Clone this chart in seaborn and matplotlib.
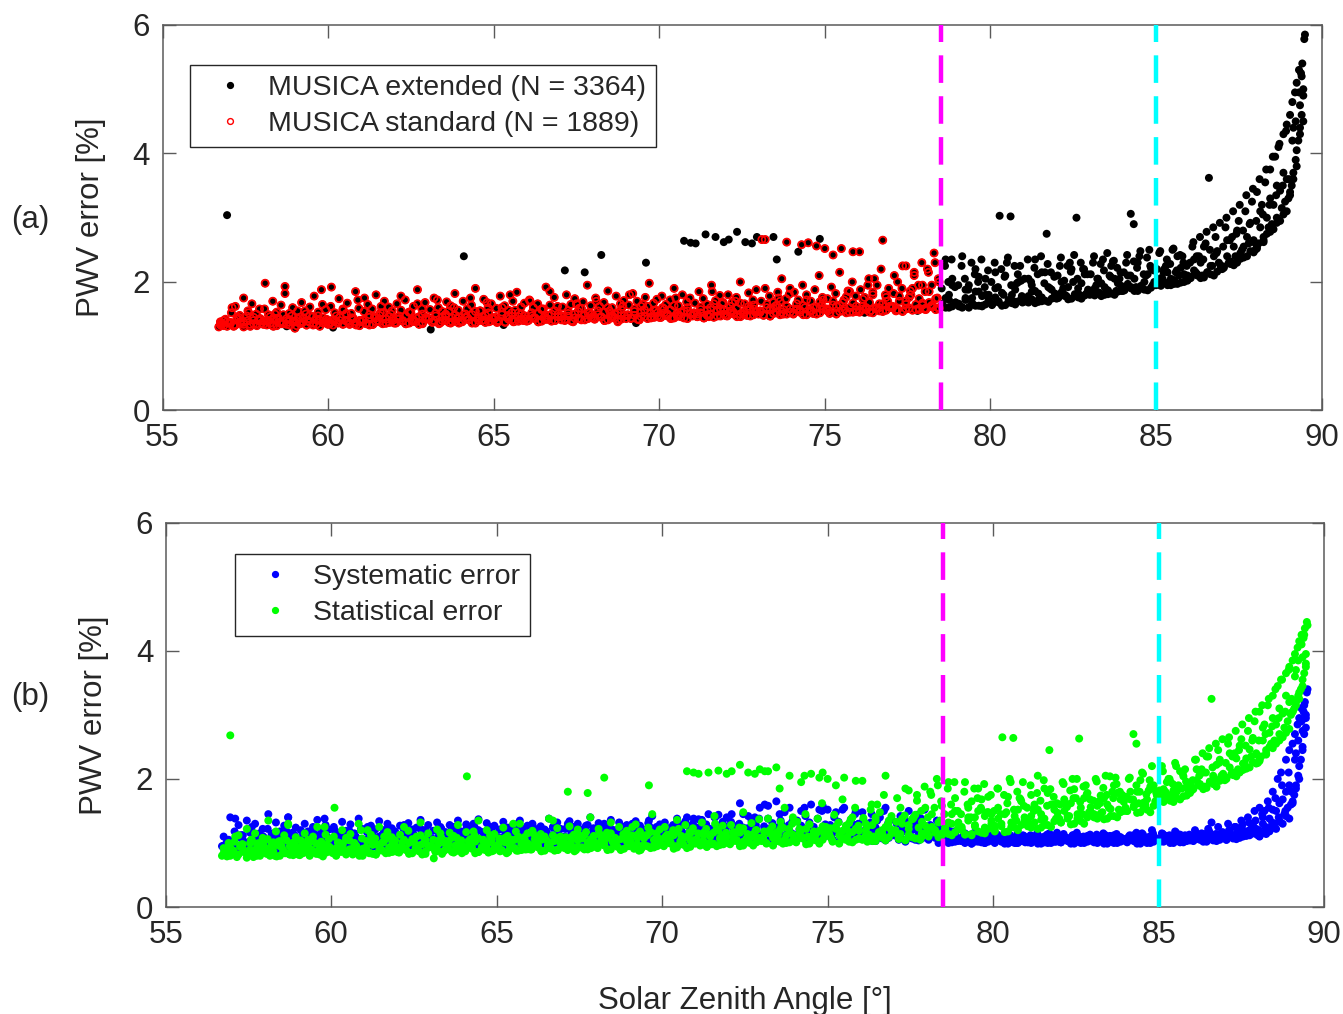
import matplotlib
matplotlib.use("Agg")
import matplotlib.pyplot as plt
import pandas as pd
import seaborn as sns
from matplotlib.lines import Line2D

# ---------------- data ----------------
SZA_STD_LIMIT = 78.5      # magenta dashed line
SZA_CYAN = 85.0           # cyan dashed line
N_EXTENDED = 3364
N_STANDARD = 1889

# --- batch 1: individual observations (incl. visible outliers) ---
sza = [
    56.7, 56.75, 56.8, 56.9, 57.0, 57.1, 57.2, 57.3, 57.45, 57.6, 57.75, 57.9,
    58.0, 58.1, 58.2, 58.3, 58.4, 58.5, 58.6, 58.7, 58.8, 58.9,
    59.0, 59.1, 59.2, 59.3, 59.4, 59.55, 59.7, 59.8, 59.9,
    60.0, 60.1, 60.2, 60.3, 60.45, 60.6, 60.7, 60.8, 60.9,
    61.0, 61.1, 61.25, 61.4, 61.5, 61.6, 61.75, 61.9,
    62.0, 62.1, 62.2, 62.35, 62.5, 62.6, 62.7, 62.85, 62.95,
    63.2, 63.3, 63.4, 63.55, 63.7, 63.8, 63.9,
    64.0, 64.2, 64.3, 64.45, 64.6, 64.7, 64.8, 64.9,
    65.0, 65.1, 65.25, 65.4, 65.5, 65.6, 65.75, 65.9,
    66.0, 66.1, 66.2, 66.35, 66.5, 66.6, 66.7, 66.85, 66.95,
    67.05, 67.25, 67.4, 67.5, 67.6, 67.9,
    68.0, 68.1, 68.35, 68.5, 68.6, 68.75, 68.9,
    69.0, 69.1, 69.25, 69.4, 69.5, 69.75, 69.9,
    70.0, 70.1, 70.25, 70.4, 70.5, 70.6, 70.85,
    71.0, 71.15, 71.25, 71.45, 71.5, 71.6, 71.75, 71.85, 71.9,
    72.0, 72.15, 72.2, 72.3, 72.45, 72.55, 72.7, 72.85, 72.9,
    73.0, 73.1, 73.2, 73.35, 73.5, 73.6, 73.7, 73.85, 73.95,
    74.05, 74.15, 74.3, 74.4, 74.5, 74.6, 74.75, 74.9, 74.95,
    75.0, 75.1, 75.25, 75.35, 75.5, 75.6, 75.75, 75.85, 75.95,
    76.05, 76.15, 76.3, 76.4, 76.5, 76.65, 76.75, 76.9,
    77.0, 77.1, 77.2, 77.35, 77.45, 77.6, 77.7, 77.85, 77.95,
    78.0, 78.1, 78.2, 78.3, 78.4, 78.45,
    78.55, 78.65, 78.75, 78.85, 78.95,
    79.05, 79.15, 79.25, 79.35, 79.45, 79.55, 79.65, 79.75, 79.85, 79.95,
    80.05, 80.15, 80.28, 80.4, 80.5, 80.61, 80.7, 80.8, 80.9, 80.97,
    81.05, 81.15, 81.25, 81.35, 81.45, 81.55, 81.7, 81.8, 81.9,
    82.0, 82.1, 82.2, 82.3, 82.4, 82.5, 82.6, 82.7, 82.8, 82.9,
    83.0, 83.1, 83.2, 83.3, 83.4, 83.5, 83.6, 83.7, 83.8, 83.9,
    84.0, 84.1, 84.24, 84.33, 84.4, 84.5, 84.6, 84.7, 84.8, 84.9,
    85.0, 85.1, 85.2, 85.3, 85.4, 85.5, 85.6, 85.7, 85.8, 85.9,
    86.0, 86.1, 86.2, 86.3, 86.4, 86.5, 86.6, 86.7, 86.8, 86.9,
    87.0, 87.1, 87.2, 87.3, 87.4, 87.5, 87.6, 87.7, 87.8, 87.9, 87.95,
    88.0, 88.05, 88.1, 88.2, 88.25, 88.3, 88.4, 88.45, 88.5, 88.6, 88.65, 88.7, 88.8, 88.85, 88.9, 88.95,
    89.0, 89.05, 89.1, 89.12, 89.15, 89.2, 89.22, 89.25, 89.3, 89.32, 89.35, 89.38, 89.4, 89.42, 89.45, 89.48, 89.5,
]
err_total = [
    1.30, 1.38, 1.34, 1.42, 1.36, 1.60, 1.33, 1.45, 1.37, 1.52, 1.35, 1.41,
    1.36, 1.98, 1.40, 1.33, 1.50, 1.44, 1.35, 1.93, 1.38, 1.47,
    1.28, 1.42, 1.36, 1.55, 1.39, 1.33, 1.47, 1.88, 1.37,
    1.34, 1.92, 1.40, 1.36, 1.58, 1.38, 1.44, 1.35, 1.72,
    1.38, 1.75, 1.33, 1.46, 1.40, 1.62, 1.36, 1.50,
    1.36, 1.42, 1.78, 1.35, 1.52, 1.39, 1.66, 1.37, 1.45,
    1.40, 1.72, 1.37, 1.48, 1.36, 1.60, 1.43,
    1.38, 1.45, 1.75, 1.36, 1.55, 1.41, 1.68, 1.39,
    1.42, 1.37, 1.60, 1.45, 1.80, 1.38, 1.52, 1.40,
    1.39, 1.70, 1.44, 1.38, 1.58, 1.42, 1.85, 1.40, 1.50,
    1.41, 1.47, 1.38, 1.66, 1.43, 1.52,
    1.44, 1.70, 1.40, 1.55, 1.47, 1.38, 1.62,
    1.43, 1.80, 1.48, 1.41, 1.65, 1.46, 1.56,
    1.45, 1.60, 1.50, 1.44, 1.75, 1.48, 1.55,
    1.47, 1.50, 1.52, 1.49, 1.46, 1.85, 1.56, 1.58, 1.66,
    1.48, 1.52, 1.55, 1.70, 1.50, 1.49, 1.62, 1.58, 1.53,
    1.50, 2.66, 2.66, 1.58, 1.62, 1.75, 1.53, 2.62, 1.90,
    1.52, 1.57, 2.58, 1.60, 2.61, 1.55, 2.56, 1.63, 1.72,
    2.52, 1.55, 2.42, 1.62, 2.52, 1.58, 1.85, 2.47, 1.54,
    2.47, 1.58, 1.95, 1.56, 2.05, 1.60, 2.65, 1.70,
    1.60, 2.10, 1.57, 2.25, 1.65, 1.80, 2.15, 1.59, 1.95,
    1.58, 2.20, 1.62, 2.45, 1.75, 1.60,
    1.62, 2.35, 1.80, 2.05, 1.68,
    1.62, 2.40, 1.75, 1.95, 1.66, 2.20, 1.85, 1.63, 2.05, 1.72,
    1.66, 2.15, 3.03, 1.80, 2.30, 3.02, 1.70, 1.98, 2.25, 1.68,
    1.70, 2.05, 1.85, 2.35, 1.72, 2.15, 2.75, 1.90, 1.75,
    1.74, 2.25, 1.90, 1.78, 2.30, 2.00, 3.00, 1.80, 2.20, 1.82,
    1.80, 2.30, 1.95, 1.83, 2.35, 1.88, 2.10, 2.32, 1.86, 2.05,
    1.86, 2.30, 3.06, 2.90, 1.92, 2.40, 1.90, 2.10, 2.50, 1.95,
    1.95, 2.45, 2.05, 2.25, 2.00, 2.50, 2.15, 2.10, 2.40, 2.08,
    2.05, 2.55, 2.15, 2.40, 2.10, 2.60, 3.62, 2.25, 2.70, 2.30,
    2.20, 2.85, 2.30, 2.70, 2.40, 2.95, 2.50, 3.10, 2.60, 3.25, 2.65,
    2.50, 3.40, 2.60, 3.20, 2.70, 3.55, 2.85, 3.75, 2.90, 3.95, 3.00, 4.10, 3.15, 4.30, 3.25, 4.45,
    3.30, 4.60, 3.50, 4.80, 3.70, 4.95, 3.90, 5.10, 4.20, 5.30, 4.40, 5.25, 4.60, 5.40, 4.90, 5.78, 5.85,
]
err_sys = [
    0.95, 1.10, 0.90, 1.05, 0.98, 1.38, 0.93, 1.12, 1.00, 1.25, 0.92, 1.06,
    1.00, 1.45, 1.05, 0.95, 1.15, 1.08, 0.96, 1.40, 1.02, 1.12,
    0.92, 1.06, 1.00, 1.18, 1.03, 0.95, 1.10, 1.38, 0.99,
    0.96, 1.20, 1.03, 0.98, 1.15, 1.00, 1.08, 0.97, 1.22,
    1.00, 1.25, 0.95, 1.08, 1.02, 1.20, 0.98, 1.12,
    0.98, 1.05, 1.28, 0.96, 1.13, 1.01, 1.22, 0.99, 1.07,
    1.03, 1.25, 0.99, 1.10, 0.98, 1.18, 1.05,
    1.00, 1.07, 1.30, 0.98, 1.15, 1.03, 1.25, 1.00,
    1.05, 0.99, 1.20, 1.07, 1.28, 1.00, 1.12, 1.02,
    1.00, 1.25, 1.05, 0.98, 1.18, 1.03, 1.25, 1.01, 1.10,
    1.02, 1.08, 0.99, 1.20, 1.04, 1.12,
    1.05, 1.25, 1.00, 1.15, 1.08, 0.99, 1.20,
    1.04, 1.30, 1.08, 1.02, 1.20, 1.06, 1.14,
    1.05, 1.20, 1.10, 1.03, 1.30, 1.08, 1.14,
    1.06, 1.09, 1.12, 1.07, 1.05, 1.40, 1.15, 1.18, 1.24,
    1.06, 1.10, 1.12, 1.28, 1.08, 1.07, 1.20, 1.16, 1.11,
    1.07, 1.60, 1.58, 1.15, 1.19, 1.30, 1.10, 1.55, 1.35,
    1.08, 1.13, 1.55, 1.14, 1.60, 1.10, 1.52, 1.18, 1.25,
    1.52, 1.10, 1.48, 1.15, 1.55, 1.12, 1.30, 1.50, 1.08,
    1.48, 1.12, 1.32, 1.10, 1.35, 1.13, 1.55, 1.20,
    1.12, 1.30, 1.10, 1.35, 1.15, 1.22, 1.32, 1.10, 1.25,
    1.10, 1.28, 1.12, 1.35, 1.18, 1.08,
    1.05, 1.20, 1.10, 1.15, 1.04,
    1.03, 1.15, 1.08, 1.12, 1.02, 1.14, 1.10, 1.00, 1.12, 1.05,
    1.02, 1.10, 1.10, 1.05, 1.13, 1.08, 1.00, 1.08, 1.12, 1.01,
    1.02, 1.08, 1.05, 1.12, 1.01, 1.10, 1.15, 1.06, 1.02,
    1.02, 1.10, 1.06, 1.03, 1.12, 1.07, 1.10, 1.03, 1.09, 1.04,
    1.03, 1.10, 1.06, 1.02, 1.12, 1.04, 1.08, 1.11, 1.03, 1.07,
    1.03, 1.10, 1.12, 1.10, 1.05, 1.15, 1.04, 1.08, 1.20, 1.05,
    1.04, 1.15, 1.05, 1.10, 1.06, 1.18, 1.08, 1.06, 1.12, 1.07,
    1.06, 1.20, 1.08, 1.15, 1.07, 1.22, 1.32, 1.10, 1.25, 1.12,
    1.08, 1.30, 1.12, 1.25, 1.14, 1.35, 1.18, 1.40, 1.22, 1.50, 1.20,
    1.12, 1.55, 1.15, 1.50, 1.20, 1.65, 1.25, 1.80, 1.30, 2.00, 1.35, 2.10, 1.45, 2.30, 1.55, 2.45,
    1.60, 2.55, 1.75, 2.70, 1.90, 2.85, 2.05, 2.95, 2.30, 3.10, 2.50, 3.05, 2.70, 3.20, 2.95, 3.35, 3.40,
]
err_stat = [
    0.80, 0.92, 0.85, 1.00, 0.88, 1.10, 0.82, 0.98, 0.86, 1.05, 0.80, 0.95,
    0.86, 1.35, 0.90, 0.80, 1.02, 0.95, 0.84, 1.30, 0.88, 0.98,
    0.82, 0.95, 0.88, 1.05, 0.90, 0.83, 0.99, 1.25, 0.87,
    0.86, 1.55, 0.92, 0.86, 1.08, 0.90, 0.96, 0.84, 1.20,
    0.88, 1.20, 0.83, 0.97, 0.90, 1.10, 0.85, 1.00,
    0.86, 0.93, 1.25, 0.85, 1.02, 0.90, 1.12, 0.87, 0.96,
    0.90, 1.15, 0.87, 0.98, 0.85, 1.08, 0.93,
    0.88, 0.95, 1.18, 0.86, 1.05, 0.92, 1.12, 0.88,
    0.92, 0.87, 1.08, 0.95, 1.30, 0.88, 1.00, 0.90,
    0.90, 1.15, 0.95, 0.88, 1.05, 0.92, 1.35, 0.90, 0.99,
    0.92, 0.97, 0.89, 1.12, 0.93, 1.00,
    0.94, 1.15, 0.90, 1.02, 0.96, 0.89, 1.08,
    0.95, 1.25, 0.98, 0.93, 1.12, 0.97, 1.05,
    0.97, 1.10, 1.00, 0.95, 1.22, 0.99, 1.04,
    0.99, 1.01, 1.03, 1.00, 0.98, 1.30, 1.06, 1.07, 1.12,
    1.00, 1.03, 1.05, 1.18, 1.02, 1.01, 1.10, 1.08, 1.04,
    1.03, 2.12, 2.12, 1.08, 1.12, 1.25, 1.05, 2.05, 1.40,
    1.05, 1.08, 2.05, 1.10, 2.08, 1.07, 2.02, 1.13, 1.25,
    2.00, 1.08, 1.90, 1.12, 2.02, 1.10, 1.40, 1.97, 1.07,
    1.97, 1.12, 1.52, 1.10, 1.60, 1.14, 2.05, 1.22,
    1.16, 1.70, 1.14, 1.85, 1.22, 1.40, 1.75, 1.15, 1.55,
    1.18, 1.80, 1.22, 2.00, 1.35, 1.15,
    1.25, 1.95, 1.45, 1.70, 1.32,
    1.22, 1.95, 1.40, 1.65, 1.28, 1.85, 1.52, 1.24, 1.72, 1.35,
    1.27, 1.85, 2.65, 1.48, 2.00, 2.64, 1.35, 1.70, 1.95, 1.30,
    1.33, 1.75, 1.55, 2.05, 1.36, 1.85, 2.45, 1.60, 1.38,
    1.38, 1.95, 1.60, 1.42, 2.00, 1.70, 2.63, 1.45, 1.90, 1.48,
    1.45, 2.00, 1.65, 1.48, 2.05, 1.55, 1.80, 2.02, 1.52, 1.75,
    1.55, 2.00, 2.70, 2.55, 1.62, 2.10, 1.60, 1.82, 2.20, 1.65,
    1.70, 2.20, 1.80, 2.00, 1.75, 2.25, 1.90, 1.85, 2.15, 1.82,
    1.82, 2.30, 1.92, 2.15, 1.88, 2.35, 3.25, 2.00, 2.45, 2.05,
    1.98, 2.55, 2.08, 2.40, 2.15, 2.62, 2.25, 2.75, 2.35, 2.90, 2.38,
    2.25, 3.05, 2.35, 2.85, 2.45, 3.15, 2.55, 3.30, 2.60, 3.45, 2.70, 3.55, 2.80, 3.65, 2.90, 3.75,
    3.00, 3.85, 3.10, 3.95, 3.20, 4.05, 3.30, 4.15, 3.40, 4.25, 3.55, 4.20, 3.65, 4.35, 3.80, 4.45, 4.40,
]

# --- batches 2 and 3: observations of the dense core of the bands (same SZA grid) ---
sza_core = [
    56.75, 56.85, 56.95,
    57.05, 57.15, 57.25, 57.35, 57.45, 57.55, 57.65, 57.75, 57.85, 57.95,
    58.05, 58.15, 58.25, 58.35, 58.45, 58.55, 58.65, 58.75, 58.85, 58.95,
    59.05, 59.15, 59.25, 59.35, 59.45, 59.55, 59.65, 59.75, 59.85, 59.95,
    60.05, 60.15, 60.25, 60.35, 60.45, 60.55, 60.65, 60.75, 60.85, 60.95,
    61.05, 61.15, 61.25, 61.35, 61.45, 61.55, 61.65, 61.75, 61.85, 61.95,
    62.05, 62.15, 62.25, 62.35, 62.45, 62.55, 62.65, 62.75, 62.85, 62.95,
    63.05, 63.15, 63.25, 63.35, 63.45, 63.55, 63.65, 63.75, 63.85, 63.95,
    64.05, 64.15, 64.25, 64.35, 64.45, 64.55, 64.65, 64.75, 64.85, 64.95,
    65.05, 65.15, 65.25, 65.35, 65.45, 65.55, 65.65, 65.75, 65.85, 65.95,
    66.05, 66.15, 66.25, 66.35, 66.45, 66.55, 66.65, 66.75, 66.85, 66.95,
    67.05, 67.15, 67.25, 67.35, 67.45, 67.55, 67.65, 67.75, 67.85, 67.95,
    68.05, 68.15, 68.25, 68.35, 68.45, 68.55, 68.65, 68.75, 68.85, 68.95,
    69.05, 69.15, 69.25, 69.35, 69.45, 69.55, 69.65, 69.75, 69.85, 69.95,
    70.05, 70.15, 70.25, 70.35, 70.45, 70.55, 70.65, 70.75, 70.85, 70.95,
    71.05, 71.15, 71.25, 71.35, 71.45, 71.55, 71.65, 71.75, 71.85, 71.95,
    72.05, 72.15, 72.25, 72.35, 72.45, 72.55, 72.65, 72.75, 72.85, 72.95,
    73.05, 73.15, 73.25, 73.35, 73.45, 73.55, 73.65, 73.75, 73.85, 73.95,
    74.05, 74.15, 74.25, 74.35, 74.45, 74.55, 74.65, 74.75, 74.85, 74.95,
    75.05, 75.15, 75.25, 75.35, 75.45, 75.55, 75.65, 75.75, 75.85, 75.95,
    76.05, 76.15, 76.25, 76.35, 76.45, 76.55, 76.65, 76.75, 76.85, 76.95,
    77.05, 77.15, 77.25, 77.35, 77.45, 77.55, 77.65, 77.75, 77.85, 77.95,
    78.05, 78.15, 78.25, 78.35, 78.45, 78.55, 78.65, 78.75, 78.85, 78.95,
    79.05, 79.15, 79.25, 79.35, 79.45, 79.55, 79.65, 79.75, 79.85, 79.95,
    80.05, 80.15, 80.25, 80.35, 80.45, 80.55, 80.65, 80.75, 80.85, 80.95,
    81.05, 81.15, 81.25, 81.35, 81.45, 81.55, 81.65, 81.75, 81.85, 81.95,
    82.05, 82.15, 82.25, 82.35, 82.45, 82.55, 82.65, 82.75, 82.85, 82.95,
    83.05, 83.15, 83.25, 83.35, 83.45, 83.55, 83.65, 83.75, 83.85, 83.95,
    84.05, 84.15, 84.25, 84.35, 84.45, 84.55, 84.65, 84.75, 84.85, 84.95,
    85.05, 85.15, 85.25, 85.35, 85.45, 85.55, 85.65, 85.75, 85.85, 85.95,
    86.05, 86.15, 86.25, 86.35, 86.45, 86.55, 86.65, 86.75, 86.85, 86.95,
    87.05, 87.15, 87.25, 87.35, 87.45, 87.55, 87.65, 87.75, 87.85, 87.95,
    88.05, 88.15, 88.25, 88.35, 88.45, 88.55, 88.65, 88.75, 88.85, 88.95,
    89.05, 89.15, 89.25, 89.35, 89.45,
]
err_total_2 = [
    1.33, 1.40, 1.31,
    1.35, 1.31, 1.44, 1.38, 1.30, 1.47, 1.34, 1.40, 1.32, 1.43,
    1.39, 1.33, 1.46, 1.31, 1.42, 1.36, 1.49, 1.34, 1.41, 1.37,
    1.32, 1.45, 1.38, 1.33, 1.48, 1.36, 1.41, 1.31, 1.44, 1.39,
    1.37, 1.33, 1.47, 1.40, 1.35, 1.51, 1.34, 1.43, 1.38, 1.32,
    1.41, 1.35, 1.49, 1.34, 1.44, 1.38, 1.52, 1.36, 1.46, 1.40,
    1.36, 1.47, 1.40, 1.35, 1.53, 1.39, 1.44, 1.34, 1.50, 1.42,
    1.43, 1.37, 1.51, 1.35, 1.46, 1.40, 1.55, 1.38, 1.48, 1.36,
    1.38, 1.50, 1.42, 1.36, 1.54, 1.40, 1.46, 1.37, 1.52, 1.44,
    1.45, 1.38, 1.53, 1.37, 1.48, 1.41, 1.56, 1.39, 1.50, 1.43,
    1.40, 1.52, 1.44, 1.38, 1.57, 1.42, 1.48, 1.39, 1.55, 1.46,
    1.47, 1.40, 1.55, 1.39, 1.50, 1.43, 1.59, 1.41, 1.52, 1.45,
    1.42, 1.55, 1.46, 1.40, 1.60, 1.44, 1.50, 1.41, 1.57, 1.48,
    1.49, 1.43, 1.58, 1.42, 1.53, 1.46, 1.62, 1.44, 1.55, 1.47,
    1.45, 1.58, 1.49, 1.43, 1.63, 1.47, 1.53, 1.44, 1.60, 1.51,
    1.52, 1.46, 1.61, 1.44, 1.56, 1.49, 1.66, 1.47, 1.58, 1.50,
    1.48, 1.62, 1.52, 1.46, 1.67, 1.50, 1.56, 1.47, 1.64, 1.54,
    1.55, 1.49, 1.65, 1.47, 1.59, 1.52, 1.70, 1.50, 1.62, 1.53,
    1.51, 1.66, 1.56, 1.49, 1.72, 1.54, 1.60, 1.50, 1.69, 1.58,
    1.58, 1.52, 1.70, 1.51, 1.64, 1.55, 1.77, 1.53, 1.67, 1.57,
    1.55, 1.73, 1.60, 1.53, 1.80, 1.58, 1.66, 1.54, 1.76, 1.62,
    1.62, 1.56, 1.78, 1.55, 1.70, 1.59, 1.90, 1.57, 1.74, 1.64,
    1.59, 1.85, 1.64, 1.57, 2.00, 1.62, 1.75, 1.60, 1.95, 1.68,
    1.66, 1.61, 1.88, 1.60, 1.75, 1.63, 2.08, 1.62, 1.80, 1.70,
    1.64, 1.90, 1.70, 1.63, 2.10, 1.68, 1.80, 1.65, 2.00, 1.74,
    1.72, 1.68, 1.95, 1.67, 1.82, 1.70, 2.15, 1.69, 1.88, 1.76,
    1.76, 2.00, 1.80, 1.73, 2.20, 1.78, 1.90, 1.74, 2.12, 1.84,
    1.83, 1.79, 2.05, 1.78, 1.92, 1.81, 2.25, 1.80, 1.98, 1.86,
    1.88, 2.10, 1.92, 1.86, 2.30, 1.90, 2.00, 1.87, 2.22, 1.96,
    1.98, 1.94, 2.20, 1.95, 2.05, 1.97, 2.40, 1.99, 2.12, 2.02,
    2.08, 2.35, 2.12, 2.06, 2.55, 2.15, 2.25, 2.10, 2.48, 2.20,
    2.24, 2.65, 2.32, 2.26, 2.80, 2.36, 2.55, 2.40, 2.92, 2.46,
    2.55, 3.10, 2.65, 2.75, 3.30, 2.82, 3.50, 2.95, 3.70, 3.10,
    3.40, 4.40, 3.80, 4.75, 4.50,
]
err_sys_2 = [
    0.92, 1.02, 0.89,
    0.97, 0.90, 1.12, 1.03, 0.88, 1.16, 0.95, 1.06, 0.91, 1.10,
    1.04, 0.93, 1.15, 0.90, 1.08, 0.98, 1.18, 0.94, 1.06, 1.00,
    0.91, 1.13, 1.03, 0.92, 1.17, 0.98, 1.07, 0.89, 1.11, 1.04,
    1.00, 0.93, 1.15, 1.05, 0.96, 1.19, 0.94, 1.09, 1.01, 0.92,
    1.05, 0.97, 1.16, 0.95, 1.10, 1.01, 1.20, 0.98, 1.13, 1.04,
    0.98, 1.14, 1.04, 0.96, 1.21, 1.02, 1.09, 0.95, 1.17, 1.07,
    1.07, 0.99, 1.18, 0.96, 1.12, 1.03, 1.22, 1.00, 1.15, 0.97,
    1.00, 1.16, 1.06, 0.97, 1.20, 1.03, 1.11, 0.98, 1.18, 1.08,
    1.09, 1.00, 1.19, 0.98, 1.13, 1.04, 1.22, 1.01, 1.16, 1.07,
    1.02, 1.17, 1.08, 0.99, 1.21, 1.05, 1.12, 1.00, 1.19, 1.10,
    1.10, 1.01, 1.19, 0.99, 1.14, 1.05, 1.23, 1.02, 1.16, 1.08,
    1.03, 1.18, 1.09, 1.00, 1.22, 1.06, 1.13, 1.01, 1.20, 1.11,
    1.11, 1.02, 1.20, 1.00, 1.15, 1.06, 1.24, 1.03, 1.17, 1.08,
    1.04, 1.19, 1.10, 1.01, 1.23, 1.07, 1.14, 1.02, 1.21, 1.12,
    1.12, 1.03, 1.21, 1.00, 1.16, 1.07, 1.25, 1.04, 1.18, 1.09,
    1.05, 1.20, 1.11, 1.02, 1.24, 1.08, 1.15, 1.03, 1.22, 1.13,
    1.13, 1.04, 1.22, 1.01, 1.17, 1.08, 1.25, 1.05, 1.19, 1.10,
    1.06, 1.21, 1.12, 1.03, 1.24, 1.09, 1.16, 1.04, 1.22, 1.14,
    1.14, 1.05, 1.22, 1.02, 1.18, 1.08, 1.25, 1.04, 1.20, 1.10,
    1.07, 1.21, 1.12, 1.03, 1.24, 1.09, 1.16, 1.04, 1.22, 1.13,
    1.14, 1.05, 1.22, 1.02, 1.18, 1.07, 1.24, 1.04, 1.19, 1.10,
    1.07, 1.18, 1.10, 1.00, 1.20, 1.05, 1.12, 1.01, 1.15, 1.06,
    1.05, 1.01, 1.12, 0.99, 1.08, 1.02, 1.13, 1.00, 1.10, 1.04,
    1.00, 1.10, 1.03, 0.99, 1.12, 1.02, 1.06, 1.00, 1.11, 1.04,
    1.03, 1.00, 1.10, 0.99, 1.06, 1.01, 1.12, 1.00, 1.08, 1.04,
    1.01, 1.10, 1.04, 0.99, 1.12, 1.02, 1.07, 1.00, 1.11, 1.05,
    1.04, 1.00, 1.10, 0.99, 1.07, 1.02, 1.12, 1.00, 1.09, 1.05,
    1.02, 1.10, 1.04, 0.99, 1.12, 1.03, 1.07, 1.00, 1.11, 1.05,
    1.05, 1.02, 1.11, 1.00, 1.07, 1.03, 1.13, 1.01, 1.09, 1.04,
    1.04, 1.12, 1.06, 1.02, 1.15, 1.07, 1.09, 1.03, 1.13, 1.08,
    1.05, 1.18, 1.09, 1.06, 1.22, 1.10, 1.16, 1.12, 1.28, 1.14,
    1.10, 1.40, 1.14, 1.18, 1.52, 1.22, 1.62, 1.30, 1.80, 1.38,
    1.65, 2.40, 2.00, 2.75, 2.80,
]
err_stat_2 = [
    0.84, 0.79, 0.93,
    0.85, 0.78, 0.96, 0.89, 0.77, 1.00, 0.83, 0.92, 0.80, 0.98,
    0.91, 0.80, 1.01, 0.79, 0.95, 0.85, 1.04, 0.82, 0.93, 0.87,
    0.81, 0.99, 0.89, 0.80, 1.03, 0.86, 0.93, 0.79, 0.97, 0.90,
    0.87, 0.81, 1.00, 0.92, 0.84, 1.04, 0.82, 0.95, 0.88, 0.80,
    0.93, 0.84, 1.03, 0.82, 0.97, 0.88, 1.06, 0.85, 1.00, 0.91,
    0.85, 1.01, 0.91, 0.83, 1.06, 0.89, 0.96, 0.82, 1.04, 0.94,
    0.95, 0.86, 1.04, 0.83, 0.99, 0.90, 1.08, 0.87, 1.02, 0.84,
    0.87, 1.03, 0.93, 0.84, 1.07, 0.90, 0.98, 0.85, 1.05, 0.95,
    0.98, 0.88, 1.07, 0.86, 1.02, 0.92, 1.10, 0.89, 1.05, 0.95,
    0.90, 1.06, 0.96, 0.87, 1.10, 0.93, 1.01, 0.88, 1.08, 0.98,
    1.00, 0.89, 1.09, 0.87, 1.04, 0.93, 1.12, 0.90, 1.06, 0.96,
    0.92, 1.10, 0.99, 0.89, 1.15, 0.96, 1.04, 0.90, 1.12, 1.01,
    1.03, 0.91, 1.13, 0.89, 1.07, 0.95, 1.17, 0.93, 1.09, 0.98,
    0.95, 1.13, 1.02, 0.91, 1.18, 0.99, 1.07, 0.92, 1.15, 1.04,
    1.06, 0.96, 1.16, 0.94, 1.10, 0.99, 1.22, 0.97, 1.12, 1.01,
    0.98, 1.17, 1.05, 0.95, 1.23, 1.02, 1.10, 0.96, 1.20, 1.07,
    1.09, 0.99, 1.20, 0.96, 1.14, 1.02, 1.24, 1.00, 1.17, 1.04,
    1.01, 1.22, 1.09, 0.98, 1.29, 1.05, 1.14, 0.99, 1.26, 1.11,
    1.14, 1.02, 1.26, 0.99, 1.19, 1.05, 1.31, 1.01, 1.22, 1.07,
    1.06, 1.30, 1.13, 1.03, 1.40, 1.10, 1.20, 1.04, 1.35, 1.16,
    1.20, 1.06, 1.38, 1.04, 1.28, 1.09, 1.44, 1.07, 1.33, 1.13,
    1.12, 1.45, 1.20, 1.09, 1.58, 1.16, 1.32, 1.12, 1.50, 1.22,
    1.25, 1.14, 1.55, 1.12, 1.40, 1.18, 1.68, 1.15, 1.48, 1.30,
    1.18, 1.55, 1.30, 1.17, 1.72, 1.25, 1.42, 1.20, 1.65, 1.35,
    1.32, 1.24, 1.60, 1.22, 1.45, 1.28, 1.78, 1.25, 1.52, 1.38,
    1.32, 1.68, 1.42, 1.29, 1.84, 1.38, 1.55, 1.30, 1.78, 1.48,
    1.45, 1.38, 1.74, 1.37, 1.60, 1.42, 1.90, 1.40, 1.68, 1.50,
    1.50, 1.80, 1.58, 1.47, 1.98, 1.55, 1.68, 1.48, 1.90, 1.62,
    1.72, 1.64, 1.95, 1.66, 1.82, 1.70, 2.12, 1.73, 1.88, 1.78,
    1.86, 2.15, 1.92, 1.84, 2.35, 1.95, 2.05, 1.88, 2.30, 2.00,
    2.02, 2.40, 2.10, 2.04, 2.52, 2.14, 2.32, 2.18, 2.64, 2.24,
    2.30, 2.80, 2.40, 2.50, 2.95, 2.55, 3.10, 2.65, 3.30, 2.78,
    3.05, 3.70, 3.25, 3.90, 3.75,
]
err_total_3 = [
    1.36, 1.32, 1.38,
    1.37, 1.33, 1.42, 1.36, 1.34, 1.39, 1.31, 1.45, 1.35, 1.40,
    1.34, 1.40, 1.36, 1.44, 1.32, 1.38, 1.35, 1.43, 1.33, 1.39,
    1.39, 1.35, 1.43, 1.33, 1.37, 1.46, 1.34, 1.40, 1.36, 1.42,
    1.35, 1.41, 1.37, 1.45, 1.34, 1.39, 1.36, 1.44, 1.33, 1.40,
    1.40, 1.36, 1.45, 1.34, 1.38, 1.48, 1.35, 1.42, 1.37, 1.43,
    1.37, 1.43, 1.39, 1.47, 1.36, 1.41, 1.38, 1.46, 1.35, 1.42,
    1.42, 1.38, 1.47, 1.36, 1.40, 1.50, 1.37, 1.44, 1.39, 1.45,
    1.39, 1.45, 1.41, 1.49, 1.37, 1.43, 1.40, 1.48, 1.38, 1.44,
    1.44, 1.40, 1.49, 1.38, 1.42, 1.52, 1.39, 1.46, 1.41, 1.47,
    1.41, 1.47, 1.43, 1.51, 1.39, 1.45, 1.42, 1.50, 1.40, 1.46,
    1.46, 1.42, 1.51, 1.40, 1.44, 1.54, 1.41, 1.48, 1.43, 1.49,
    1.43, 1.49, 1.45, 1.53, 1.41, 1.47, 1.44, 1.52, 1.42, 1.48,
    1.48, 1.44, 1.54, 1.42, 1.46, 1.57, 1.43, 1.51, 1.45, 1.52,
    1.45, 1.52, 1.47, 1.56, 1.44, 1.50, 1.46, 1.55, 1.43, 1.51,
    1.50, 1.46, 1.57, 1.44, 1.48, 1.60, 1.45, 1.54, 1.47, 1.55,
    1.47, 1.55, 1.50, 1.59, 1.46, 1.53, 1.48, 1.58, 1.49, 1.54,
    1.53, 1.48, 1.60, 1.47, 1.51, 1.64, 1.49, 1.57, 1.50, 1.58,
    1.50, 1.58, 1.53, 1.63, 1.49, 1.56, 1.51, 1.61, 1.52, 1.57,
    1.56, 1.51, 1.64, 1.50, 1.54, 1.68, 1.52, 1.60, 1.53, 1.62,
    1.53, 1.62, 1.57, 1.68, 1.52, 1.60, 1.55, 1.66, 1.56, 1.61,
    1.60, 1.55, 1.70, 1.54, 1.58, 1.76, 1.56, 1.65, 1.57, 1.67,
    1.57, 1.68, 1.61, 1.74, 1.58, 1.66, 1.60, 1.72, 1.62, 1.67,
    1.64, 1.60, 1.72, 1.61, 1.67, 1.85, 1.63, 1.78, 1.65, 1.80,
    1.65, 1.76, 1.68, 1.83, 1.64, 1.72, 1.67, 1.88, 1.70, 1.78,
    1.70, 1.78, 1.73, 1.86, 1.69, 1.76, 1.71, 1.92, 1.74, 1.82,
    1.75, 1.84, 1.78, 1.92, 1.74, 1.81, 1.76, 1.98, 1.79, 1.88,
    1.81, 1.90, 1.84, 1.98, 1.80, 1.87, 1.82, 2.05, 1.85, 1.94,
    1.87, 1.97, 1.90, 2.05, 1.86, 1.94, 1.88, 2.12, 1.91, 2.00,
    1.96, 2.06, 1.99, 2.15, 1.95, 2.03, 1.97, 2.22, 2.00, 2.10,
    2.06, 2.18, 2.10, 2.30, 2.07, 2.15, 2.12, 2.40, 2.16, 2.26,
    2.22, 2.40, 2.28, 2.55, 2.30, 2.45, 2.38, 2.70, 2.48, 2.62,
    2.52, 2.85, 2.62, 3.00, 2.78, 3.20, 2.92, 3.42, 3.05, 3.60,
    3.35, 3.60, 4.05, 4.30, 5.00,
]
err_sys_3 = [
    0.96, 0.90, 1.00,
    0.99, 0.92, 1.08, 0.97, 0.94, 1.03, 0.89, 1.13, 0.96, 1.05,
    0.95, 1.04, 0.99, 1.10, 0.91, 1.02, 0.96, 1.08, 0.93, 1.03,
    1.02, 0.96, 1.08, 0.93, 0.99, 1.12, 0.95, 1.05, 0.98, 1.07,
    0.96, 1.05, 0.99, 1.11, 0.94, 1.02, 0.97, 1.09, 0.92, 1.03,
    1.03, 0.97, 1.09, 0.94, 1.00, 1.13, 0.96, 1.06, 0.99, 1.08,
    0.98, 1.07, 1.01, 1.12, 0.96, 1.04, 0.99, 1.10, 0.95, 1.05,
    1.05, 0.99, 1.11, 0.96, 1.02, 1.15, 0.98, 1.08, 1.00, 1.09,
    1.00, 1.08, 1.03, 1.13, 0.97, 1.06, 1.01, 1.11, 0.98, 1.07,
    1.06, 1.00, 1.12, 0.97, 1.03, 1.16, 0.99, 1.09, 1.01, 1.10,
    1.01, 1.09, 1.04, 1.14, 0.98, 1.07, 1.02, 1.12, 0.99, 1.08,
    1.07, 1.01, 1.13, 0.98, 1.04, 1.17, 1.00, 1.10, 1.02, 1.11,
    1.02, 1.10, 1.05, 1.15, 0.99, 1.08, 1.03, 1.13, 1.00, 1.09,
    1.08, 1.02, 1.14, 0.99, 1.05, 1.18, 1.01, 1.11, 1.03, 1.12,
    1.03, 1.11, 1.06, 1.16, 1.00, 1.09, 1.04, 1.14, 1.01, 1.10,
    1.09, 1.03, 1.15, 1.00, 1.06, 1.19, 1.02, 1.12, 1.04, 1.13,
    1.04, 1.12, 1.07, 1.17, 1.01, 1.10, 1.05, 1.15, 1.06, 1.11,
    1.10, 1.04, 1.16, 1.01, 1.07, 1.20, 1.03, 1.13, 1.05, 1.14,
    1.05, 1.13, 1.08, 1.18, 1.02, 1.11, 1.06, 1.16, 1.07, 1.12,
    1.11, 1.05, 1.17, 1.02, 1.08, 1.21, 1.04, 1.14, 1.06, 1.15,
    1.06, 1.14, 1.09, 1.19, 1.03, 1.12, 1.07, 1.17, 1.08, 1.13,
    1.12, 1.06, 1.17, 1.03, 1.09, 1.20, 1.05, 1.14, 1.07, 1.15,
    1.05, 1.12, 1.08, 1.14, 1.02, 1.04, 1.00, 1.08, 1.02, 1.05,
    1.03, 1.00, 1.07, 0.99, 1.04, 1.10, 1.01, 1.08, 1.02, 1.09,
    1.01, 1.05, 1.02, 1.08, 0.99, 1.04, 1.00, 1.09, 1.03, 1.06,
    1.01, 1.05, 1.03, 1.08, 0.99, 1.04, 1.00, 1.09, 1.02, 1.06,
    1.01, 1.05, 1.03, 1.08, 0.99, 1.04, 1.00, 1.09, 1.02, 1.06,
    1.01, 1.05, 1.03, 1.08, 0.99, 1.04, 1.00, 1.09, 1.02, 1.06,
    1.01, 1.05, 1.03, 1.08, 0.99, 1.04, 1.00, 1.09, 1.02, 1.06,
    1.02, 1.06, 1.04, 1.09, 1.00, 1.05, 1.01, 1.10, 1.03, 1.07,
    1.03, 1.07, 1.05, 1.10, 1.02, 1.06, 1.04, 1.12, 1.05, 1.09,
    1.05, 1.10, 1.07, 1.14, 1.08, 1.12, 1.11, 1.20, 1.15, 1.22,
    1.11, 1.30, 1.16, 1.38, 1.24, 1.50, 1.33, 1.68, 1.42, 1.90,
    1.62, 1.85, 2.20, 2.45, 3.00,
]
err_stat_3 = [
    0.82, 0.87, 0.80,
    0.88, 0.81, 0.94, 0.86, 0.83, 0.90, 0.78, 0.99, 0.84, 0.91,
    0.83, 0.91, 0.87, 0.97, 0.80, 0.89, 0.84, 0.95, 0.81, 0.90,
    0.89, 0.84, 0.95, 0.81, 0.87, 0.99, 0.82, 0.91, 0.85, 0.94,
    0.84, 0.92, 0.87, 0.98, 0.82, 0.90, 0.85, 0.96, 0.80, 0.91,
    0.91, 0.85, 0.97, 0.82, 0.88, 1.01, 0.84, 0.93, 0.86, 0.95,
    0.86, 0.94, 0.89, 1.00, 0.84, 0.92, 0.87, 0.98, 0.83, 0.93,
    0.93, 0.87, 0.99, 0.85, 0.90, 1.03, 0.86, 0.96, 0.88, 0.97,
    0.88, 0.96, 0.91, 1.02, 0.86, 0.94, 0.89, 1.00, 0.87, 0.95,
    0.95, 0.89, 1.01, 0.87, 0.92, 1.05, 0.88, 0.98, 0.90, 0.99,
    0.90, 0.99, 0.93, 1.05, 0.88, 0.97, 0.91, 1.03, 0.89, 0.98,
    0.98, 0.91, 1.04, 0.89, 0.94, 1.08, 0.90, 1.01, 0.92, 1.02,
    0.93, 1.02, 0.96, 1.08, 0.90, 1.00, 0.94, 1.06, 0.91, 1.01,
    1.01, 0.94, 1.08, 0.91, 0.97, 1.12, 0.92, 1.05, 0.95, 1.06,
    0.96, 1.06, 0.99, 1.12, 0.93, 1.03, 0.97, 1.10, 0.94, 1.04,
    1.04, 0.97, 1.12, 0.94, 1.00, 1.16, 0.95, 1.08, 0.98, 1.10,
    0.99, 1.10, 1.03, 1.16, 0.96, 1.07, 1.00, 1.14, 1.01, 1.08,
    1.07, 1.00, 1.15, 0.97, 1.03, 1.20, 0.99, 1.12, 1.01, 1.13,
    1.02, 1.15, 1.07, 1.22, 0.99, 1.11, 1.04, 1.19, 1.05, 1.13,
    1.12, 1.03, 1.22, 1.00, 1.08, 1.27, 1.02, 1.17, 1.05, 1.19,
    1.05, 1.20, 1.11, 1.28, 1.03, 1.17, 1.08, 1.25, 1.09, 1.18,
    1.16, 1.08, 1.30, 1.05, 1.13, 1.37, 1.07, 1.24, 1.10, 1.27,
    1.10, 1.25, 1.16, 1.32, 1.12, 1.22, 1.14, 1.30, 1.17, 1.24,
    1.20, 1.13, 1.35, 1.14, 1.26, 1.50, 1.16, 1.42, 1.22, 1.45,
    1.20, 1.38, 1.26, 1.45, 1.18, 1.32, 1.24, 1.52, 1.28, 1.40,
    1.26, 1.42, 1.32, 1.52, 1.24, 1.38, 1.28, 1.60, 1.34, 1.47,
    1.32, 1.50, 1.38, 1.62, 1.30, 1.45, 1.34, 1.70, 1.40, 1.56,
    1.40, 1.58, 1.46, 1.70, 1.38, 1.53, 1.42, 1.78, 1.48, 1.64,
    1.50, 1.68, 1.56, 1.80, 1.48, 1.63, 1.52, 1.88, 1.58, 1.74,
    1.66, 1.84, 1.72, 1.96, 1.64, 1.80, 1.68, 2.04, 1.74, 1.90,
    1.84, 1.98, 1.89, 2.10, 1.86, 1.96, 1.92, 2.22, 1.97, 2.08,
    2.00, 2.18, 2.06, 2.32, 2.10, 2.24, 2.16, 2.46, 2.26, 2.40,
    2.28, 2.60, 2.38, 2.72, 2.48, 2.85, 2.60, 3.02, 2.72, 3.20,
    3.05, 3.15, 3.35, 3.45, 3.95,
]

# --- batch 4: observations in the upper, looser part of the bands ---
sza_upper = [
    57.08, 57.2, 57.33, 57.45, 57.58, 57.7, 57.83, 57.93,
    58.08, 58.2, 58.33, 58.45, 58.58, 58.7, 58.83, 58.93,
    59.08, 59.2, 59.33, 59.45, 59.58, 59.7, 59.83, 59.93,
    60.08, 60.2, 60.33, 60.45, 60.58, 60.7, 60.83, 60.93,
    61.08, 61.2, 61.33, 61.45, 61.58, 61.7, 61.83, 61.93,
    62.08, 62.2, 62.33, 62.45, 62.58, 62.7, 62.83, 62.93,
    63.08, 63.2, 63.33, 63.45, 63.58, 63.7, 63.83, 63.93,
    64.08, 64.2, 64.33, 64.45, 64.58, 64.7, 64.83, 64.93,
    65.08, 65.2, 65.33, 65.45, 65.58, 65.7, 65.83, 65.93,
    66.08, 66.2, 66.33, 66.45, 66.58, 66.7, 66.83, 66.93,
    67.08, 67.2, 67.33, 67.45, 67.58, 67.7, 67.83, 67.93,
    68.08, 68.2, 68.33, 68.45, 68.58, 68.7, 68.83, 68.93,
    69.08, 69.2, 69.33, 69.45, 69.58, 69.7, 69.83, 69.93,
    70.08, 70.2, 70.33, 70.45, 70.58, 70.7, 70.83, 70.93,
    71.08, 71.2, 71.33, 71.45, 71.58, 71.7, 71.83, 71.93,
    72.08, 72.2, 72.33, 72.45, 72.58, 72.7, 72.83, 72.93,
    73.08, 73.2, 73.33, 73.45, 73.58, 73.7, 73.83, 73.93,
    74.08, 74.2, 74.33, 74.45, 74.58, 74.7, 74.83, 74.93,
    75.08, 75.2, 75.33, 75.45, 75.58, 75.7, 75.83, 75.93,
    76.08, 76.2, 76.33, 76.45, 76.58, 76.7, 76.83, 76.93,
    77.08, 77.2, 77.33, 77.45, 77.58, 77.7, 77.83, 77.93,
    78.03, 78.13, 78.23, 78.33, 78.43, 78.53, 78.63, 78.73, 78.83, 78.93,
    79.03, 79.13, 79.23, 79.33, 79.43, 79.53, 79.63, 79.73, 79.83, 79.93,
    80.03, 80.13, 80.23, 80.33, 80.43, 80.53, 80.63, 80.73, 80.83, 80.93,
    81.03, 81.13, 81.23, 81.33, 81.43, 81.53, 81.63, 81.73, 81.83, 81.93,
    82.03, 82.13, 82.23, 82.33, 82.43, 82.53, 82.63, 82.73, 82.83, 82.93,
    83.03, 83.13, 83.23, 83.33, 83.43, 83.53, 83.63, 83.73, 83.83, 83.93,
    84.03, 84.13, 84.23, 84.33, 84.43, 84.53, 84.63, 84.73, 84.83, 84.93,
    85.03, 85.13, 85.23, 85.33, 85.43, 85.53, 85.63, 85.73, 85.83, 85.93,
    86.03, 86.13, 86.23, 86.33, 86.43, 86.53, 86.63, 86.73, 86.83, 86.93,
    87.03, 87.13, 87.23, 87.33, 87.43, 87.53, 87.63, 87.73, 87.83, 87.93,
    88.03, 88.13, 88.23, 88.33, 88.43, 88.53, 88.63, 88.73, 88.83, 88.93,
    89.02, 89.12, 89.22, 89.32, 89.4,
]
err_total_4 = [
    1.52, 1.62, 1.48, 1.75, 1.55, 1.66, 1.50, 1.58,
    1.58, 1.49, 1.70, 1.53, 1.64, 1.82, 1.51, 1.60,
    1.55, 1.68, 1.50, 1.61, 1.78, 1.53, 1.65, 1.57,
    1.62, 1.52, 1.74, 1.56, 1.67, 1.51, 1.85, 1.59,
    1.54, 1.65, 1.58, 1.80, 1.52, 1.70, 1.61, 1.55,
    1.66, 1.56, 1.72, 1.53, 1.62, 1.88, 1.58, 1.68,
    1.57, 1.75, 1.60, 1.54, 1.69, 1.63, 1.82, 1.56,
    1.70, 1.58, 1.64, 1.90, 1.55, 1.73, 1.60, 1.66,
    1.59, 1.78, 1.63, 1.56, 1.70, 1.84, 1.61, 1.67,
    1.72, 1.60, 1.66, 1.58, 1.92, 1.64, 1.76, 1.62,
    1.61, 1.80, 1.65, 1.74, 1.59, 1.69, 1.95, 1.63,
    1.75, 1.62, 1.68, 1.86, 1.60, 1.78, 1.66, 1.71,
    1.64, 1.82, 1.70, 1.62, 1.76, 1.98, 1.67, 1.73,
    1.78, 1.65, 1.72, 1.90, 1.63, 1.80, 1.69, 1.75,
    1.67, 1.85, 1.74, 1.65, 1.95, 1.71, 1.79, 1.68,
    1.80, 1.68, 1.76, 2.00, 1.66, 1.83, 1.72, 1.88,
    1.70, 1.90, 1.78, 1.68, 1.84, 2.05, 1.74, 1.81,
    1.84, 1.72, 1.95, 1.80, 1.70, 1.88, 2.10, 1.76,
    1.74, 1.92, 1.82, 2.15, 1.72, 1.86, 2.00, 1.78,
    1.88, 1.76, 2.05, 1.84, 1.95, 2.20, 1.80, 1.90,
    1.82, 2.00, 1.90, 2.25, 1.86, 2.10, 1.95, 2.30,
    1.85, 2.15, 1.95, 2.30, 2.05, 1.90, 2.25, 2.00, 2.35, 1.92,
    1.95, 2.25, 2.05, 1.88, 2.30, 2.12, 2.00, 2.35, 1.92, 2.18,
    2.00, 2.30, 1.92, 2.20, 2.08, 2.38, 1.95, 2.25, 2.12, 2.02,
    2.05, 2.35, 2.00, 2.22, 2.12, 2.40, 1.98, 2.28, 2.15, 2.08,
    2.10, 2.38, 2.02, 2.25, 2.16, 2.42, 2.05, 2.30, 2.20, 2.12,
    2.12, 2.40, 2.05, 2.28, 2.18, 2.45, 2.08, 2.33, 2.22, 2.15,
    2.15, 2.42, 2.10, 2.32, 2.22, 2.48, 2.12, 2.38, 2.25, 2.18,
    2.20, 2.48, 2.15, 2.35, 2.28, 2.52, 2.18, 2.42, 2.30, 2.25,
    2.30, 2.62, 2.40, 2.70, 2.35, 2.78, 2.50, 2.85, 2.45, 2.92,
    2.55, 3.00, 2.65, 3.10, 2.75, 3.20, 2.80, 3.35, 2.90, 3.45,
    2.95, 3.60, 3.05, 3.75, 3.20, 3.95, 3.35, 4.15, 3.50, 4.35,
    3.60, 4.20, 4.50, 4.95, 5.20,
]
err_sys_4 = [
    1.18, 1.28, 1.12, 1.35, 1.20, 1.30, 1.15, 1.22,
    1.22, 1.14, 1.32, 1.18, 1.27, 1.40, 1.16, 1.24,
    1.20, 1.30, 1.15, 1.25, 1.36, 1.17, 1.28, 1.21,
    1.25, 1.16, 1.33, 1.19, 1.29, 1.15, 1.38, 1.22,
    1.17, 1.27, 1.21, 1.34, 1.15, 1.30, 1.23, 1.18,
    1.27, 1.19, 1.31, 1.16, 1.24, 1.36, 1.20, 1.28,
    1.19, 1.32, 1.22, 1.17, 1.28, 1.25, 1.35, 1.18,
    1.29, 1.20, 1.25, 1.37, 1.17, 1.31, 1.22, 1.27,
    1.21, 1.33, 1.24, 1.18, 1.29, 1.35, 1.22, 1.27,
    1.30, 1.21, 1.26, 1.19, 1.38, 1.24, 1.32, 1.22,
    1.22, 1.34, 1.25, 1.30, 1.20, 1.27, 1.40, 1.23,
    1.31, 1.22, 1.26, 1.36, 1.20, 1.32, 1.25, 1.28,
    1.23, 1.34, 1.27, 1.21, 1.31, 1.42, 1.25, 1.29,
    1.32, 1.23, 1.28, 1.38, 1.22, 1.34, 1.26, 1.30,
    1.24, 1.36, 1.29, 1.22, 1.40, 1.27, 1.33, 1.25,
    1.33, 1.25, 1.30, 1.45, 1.23, 1.35, 1.28, 1.38,
    1.26, 1.38, 1.31, 1.24, 1.35, 1.48, 1.28, 1.33,
    1.35, 1.27, 1.42, 1.32, 1.25, 1.38, 1.50, 1.29,
    1.28, 1.40, 1.33, 1.52, 1.26, 1.36, 1.45, 1.30,
    1.36, 1.29, 1.45, 1.34, 1.40, 1.50, 1.31, 1.37,
    1.31, 1.42, 1.36, 1.50, 1.33, 1.44, 1.38, 1.52,
    1.12, 1.20, 1.10, 1.25, 1.15, 1.08, 1.22, 1.05, 1.18, 1.03,
    1.08, 1.14, 1.05, 1.10, 1.16, 1.03, 1.12, 1.18, 1.06, 1.11,
    1.06, 1.13, 1.04, 1.10, 1.15, 1.02, 1.08, 1.14, 1.05, 1.11,
    1.07, 1.12, 1.03, 1.15, 1.09, 1.05, 1.13, 1.02, 1.10, 1.16,
    1.05, 1.14, 1.08, 1.03, 1.12, 1.16, 1.06, 1.10, 1.04, 1.13,
    1.08, 1.13, 1.04, 1.15, 1.06, 1.11, 1.03, 1.14, 1.09, 1.05,
    1.06, 1.12, 1.04, 1.16, 1.08, 1.13, 1.03, 1.10, 1.15, 1.07,
    1.07, 1.14, 1.05, 1.12, 1.09, 1.16, 1.04, 1.11, 1.08, 1.13,
    1.08, 1.15, 1.06, 1.13, 1.10, 1.18, 1.07, 1.14, 1.12, 1.17,
    1.10, 1.20, 1.12, 1.25, 1.15, 1.28, 1.18, 1.32, 1.22, 1.35,
    1.20, 1.45, 1.25, 1.55, 1.32, 1.70, 1.40, 1.90, 1.50, 2.10,
    1.80, 2.30, 2.60, 2.90, 3.15,
]
err_stat_4 = [
    1.02, 1.12, 0.98, 1.22, 1.05, 1.15, 1.00, 1.08,
    1.06, 0.99, 1.18, 1.03, 1.12, 1.28, 1.00, 1.09,
    1.04, 1.15, 1.00, 1.10, 1.25, 1.02, 1.13, 1.06,
    1.10, 1.01, 1.20, 1.05, 1.14, 1.00, 1.30, 1.07,
    1.03, 1.13, 1.07, 1.25, 1.01, 1.17, 1.09, 1.04,
    1.13, 1.05, 1.19, 1.02, 1.10, 1.32, 1.06, 1.15,
    1.05, 1.21, 1.08, 1.03, 1.16, 1.11, 1.28, 1.04,
    1.17, 1.06, 1.12, 1.35, 1.04, 1.20, 1.08, 1.14,
    1.07, 1.24, 1.11, 1.05, 1.18, 1.30, 1.09, 1.15,
    1.19, 1.08, 1.14, 1.06, 1.38, 1.12, 1.23, 1.10,
    1.09, 1.26, 1.13, 1.21, 1.07, 1.17, 1.40, 1.11,
    1.22, 1.10, 1.16, 1.32, 1.08, 1.25, 1.14, 1.19,
    1.12, 1.29, 1.18, 1.10, 1.24, 1.45, 1.15, 1.21,
    1.25, 1.13, 1.20, 1.36, 1.11, 1.28, 1.17, 1.23,
    1.15, 1.32, 1.22, 1.13, 1.42, 1.19, 1.27, 1.16,
    1.28, 1.16, 1.24, 1.48, 1.14, 1.31, 1.20, 1.37,
    1.18, 1.38, 1.26, 1.16, 1.33, 1.55, 1.22, 1.30,
    1.33, 1.20, 1.45, 1.29, 1.18, 1.38, 1.62, 1.24,
    1.23, 1.44, 1.32, 1.68, 1.21, 1.37, 1.55, 1.27,
    1.39, 1.26, 1.60, 1.35, 1.48, 1.75, 1.30, 1.42,
    1.33, 1.55, 1.43, 1.82, 1.38, 1.66, 1.50, 1.88,
    1.40, 1.75, 1.55, 1.90, 1.65, 1.45, 1.85, 1.60, 1.95, 1.50,
    1.45, 1.80, 1.60, 1.40, 1.85, 1.70, 1.55, 1.92, 1.48, 1.75,
    1.50, 1.85, 1.45, 1.75, 1.62, 1.95, 1.52, 1.80, 1.68, 1.58,
    1.55, 1.90, 1.50, 1.78, 1.66, 1.98, 1.58, 1.84, 1.72, 1.62,
    1.60, 1.92, 1.56, 1.82, 1.70, 2.00, 1.64, 1.88, 1.76, 1.68,
    1.66, 1.96, 1.62, 1.86, 1.75, 2.04, 1.70, 1.92, 1.80, 1.72,
    1.72, 2.02, 1.68, 1.90, 1.80, 2.08, 1.76, 1.98, 1.85, 1.78,
    1.82, 2.12, 1.78, 2.00, 1.92, 2.20, 1.86, 2.08, 1.96, 1.90,
    1.98, 2.30, 2.05, 2.40, 2.10, 2.48, 2.18, 2.55, 2.25, 2.62,
    2.25, 2.65, 2.35, 2.75, 2.45, 2.85, 2.52, 2.95, 2.60, 3.05,
    2.60, 3.15, 2.70, 3.25, 2.82, 3.40, 2.95, 3.55, 3.05, 3.70,
    3.25, 3.60, 3.85, 4.10, 4.25,
]

# observations below 78.5 deg retrieved only with the extended set-up (black only)
ext_only_sza = [56.95, 63.1, 64.1, 67.15, 67.75, 68.25, 69.6, 70.75, 70.95, 71.1,
                71.4, 71.7, 71.95, 72.1, 72.35, 72.6, 72.8, 72.95, 73.45, 73.55,
                74.2, 74.85, 58.75, 60.15, 65.3, 69.3, 76.2, 77.8]
ext_only_total = [3.04, 1.26, 2.40, 2.18, 2.15, 2.42, 2.30, 2.64, 2.61, 2.60,
                  2.74, 2.70, 2.62, 2.66, 2.78, 2.62, 2.60, 2.70, 2.70, 2.35,
                  2.47, 2.67, 1.31, 1.29, 1.33, 1.36, 1.52, 1.55]
ext_only_sys = [1.40, 0.92, 1.25, 1.30, 1.28, 1.30, 1.35, 1.40, 1.38, 1.37,
                1.45, 1.44, 1.40, 1.45, 1.62, 1.42, 1.40, 1.55, 1.65, 1.45,
                1.50, 1.58, 0.95, 0.93, 0.96, 1.00, 1.08, 1.10]
ext_only_stat = [2.68, 0.76, 2.04, 1.80, 1.78, 2.02, 1.90, 2.12, 2.10, 2.08,
                 2.10, 2.13, 2.08, 2.12, 2.22, 2.10, 2.08, 2.15, 2.18, 1.85,
                 1.95, 2.10, 0.82, 0.80, 0.84, 0.88, 1.02, 1.05]

x_ticks = [55, 60, 65, 70, 75, 80, 85, 90]
y_ticks = [0, 2, 4, 6]

# ---------------- tables ----------------
df_main = pd.concat([
    pd.DataFrame({"sza": sza, "total": err_total, "sys": err_sys, "stat": err_stat}),
    pd.DataFrame({"sza": sza_core, "total": err_total_2, "sys": err_sys_2, "stat": err_stat_2}),
    pd.DataFrame({"sza": sza_core, "total": err_total_3, "sys": err_sys_3, "stat": err_stat_3}),
    pd.DataFrame({"sza": sza_upper, "total": err_total_4, "sys": err_sys_4, "stat": err_stat_4}),
], ignore_index=True)
df_only = pd.DataFrame({"sza": ext_only_sza, "total": ext_only_total,
                        "sys": ext_only_sys, "stat": ext_only_stat})
df_ext = pd.concat([df_main, df_only], ignore_index=True)
df_std = df_main[df_main["sza"] < SZA_STD_LIMIT]

# ---------------- style ----------------
sns.set_theme(style="white")
plt.rcParams["font.family"] = ["Liberation Sans", "DejaVu Sans"]
AX_COL = "#5a5a5a"
TXT_COL = "#262626"
FS = 22.5
MS = 33

fig = plt.figure(figsize=(13.43, 10.14), dpi=100)
ax_a = fig.add_axes([0.1210, 0.5952, 0.8630, 0.3802])
ax_b = fig.add_axes([0.1234, 0.1055, 0.8625, 0.3790])

# panel (a)
sns.scatterplot(data=df_ext, x="sza", y="total", ax=ax_a, color="black", s=MS,
                linewidth=0, edgecolor="none", legend=False, zorder=2)
sns.scatterplot(data=df_std, x="sza", y="total", ax=ax_a, color="red", s=26,
                linewidth=1.3, legend=False, zorder=2.1)
coll = ax_a.collections[-1]
coll.set_facecolor("none")
coll.set_edgecolor("red")

# panel (b)
sns.scatterplot(data=df_ext, x="sza", y="sys", ax=ax_b, color="#0000ff", s=MS,
                linewidth=0, edgecolor="none", legend=False, zorder=2)
sns.scatterplot(data=df_ext, x="sza", y="stat", ax=ax_b, color="#00ff00", s=MS,
                linewidth=0, edgecolor="none", legend=False, zorder=2.1)

for ax in (ax_a, ax_b):
    ax.axvline(SZA_STD_LIMIT, color="#ff00ff", lw=3.2, dashes=(6.2, 3.0), zorder=3)
    ax.axvline(SZA_CYAN, color="#00ffff", lw=3.2, dashes=(6.2, 3.0), zorder=3)
    ax.set_xlim(55, 90)
    ax.set_ylim(0, 6)
    ax.set_xticks(x_ticks)
    ax.set_yticks(y_ticks)
    ax.tick_params(direction="in", length=9, width=1.0, color=AX_COL,
                   labelcolor=TXT_COL, labelsize=FS, top=True, right=True,
                   bottom=True, left=True, pad=9)
    for sp in ax.spines.values():
        sp.set_visible(True)
        sp.set_color(AX_COL)
        sp.set_linewidth(1.1)
    ax.set_ylabel("PWV error [%]", fontsize=FS, color=TXT_COL, labelpad=19)
    ax.set_xlabel("")

ax_b.set_xlabel("Solar Zenith Angle [°]", fontsize=FS, color=TXT_COL, labelpad=26)

# legends
leg_kw = dict(loc="upper left", borderaxespad=0, frameon=True, fancybox=False,
              edgecolor=TXT_COL, framealpha=1, fontsize=20.5, handlelength=2.1,
              handletextpad=0.28, borderpad=0.35, labelspacing=0.36)
h_a = [Line2D([], [], ls="none", marker="o", markersize=4.2, markerfacecolor="black",
              markeredgecolor="black", label=f"MUSICA extended (N = {N_EXTENDED})"),
       Line2D([], [], ls="none", marker="o", markersize=4.2, markerfacecolor="none",
              markeredgecolor="red", markeredgewidth=1.0,
              label=f"MUSICA standard (N = {N_STANDARD})")]
leg = ax_a.legend(handles=h_a, bbox_to_anchor=(0.0237, 0.8962), **leg_kw)
leg.get_frame().set_linewidth(1.0)
leg.set_zorder(5)

h_b = [Line2D([], [], ls="none", marker="o", markersize=4.2, markerfacecolor="#0000ff",
              markeredgecolor="#0000ff", label="Systematic error"),
       Line2D([], [], ls="none", marker="o", markersize=4.2, markerfacecolor="#00ff00",
              markeredgecolor="#00ff00", label="Statistical error")]
leg = ax_b.legend(handles=h_b, bbox_to_anchor=(0.0598, 0.9186), **leg_kw)
leg.get_frame().set_linewidth(1.0)
leg.set_zorder(5)

fig.text(0.0223, 0.783, "(a)", ha="center", va="center", fontsize=FS, color=TXT_COL)
fig.text(0.0223, 0.3126, "(b)", ha="center", va="center", fontsize=FS, color=TXT_COL)

fig.savefig("out.png", dpi=100, facecolor="white")
